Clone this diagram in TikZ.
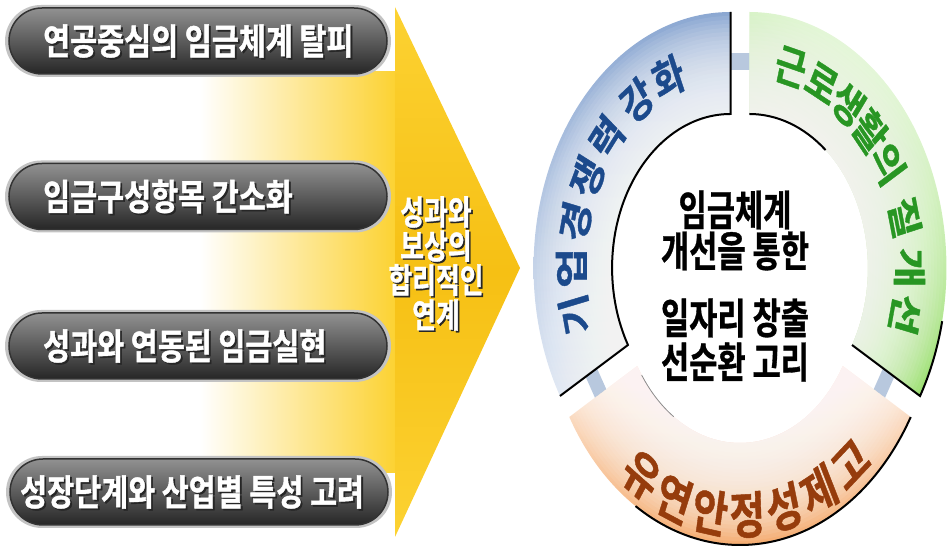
\documentclass[tikz,border=0pt]{standalone}
\usepackage{fontspec}
\newfontfamily\krA[FakeStretch=0.815,FakeBold=1.2]{Noto Sans CJK KR Bold}
\newfontfamily\krB[FakeStretch=0.76,FakeBold=1.0]{Noto Sans CJK KR Bold}
\newfontfamily\krC[FakeStretch=0.73,FakeBold=0.8]{Noto Sans CJK KR Bold}
\newfontfamily\krN[FakeBold=1.0]{Noto Sans CJK KR Bold}
\definecolor{yelA}{RGB}{252,210,50}
\definecolor{yelB}{RGB}{246,192,20}
\definecolor{pilltop}{RGB}{145,145,145}
\definecolor{pillbot}{RGB}{38,38,38}
\definecolor{haloc}{RGB}{195,195,195}
\definecolor{segblue}{RGB}{140,168,210}
\definecolor{seggreen}{RGB}{140,218,90}
\definecolor{segorange}{RGB}{243,160,92}
\definecolor{txtblue}{RGB}{28,74,140}
\definecolor{txtgreen}{RGB}{40,150,35}
\definecolor{txtbrown}{RGB}{150,60,12}
\definecolor{connc}{RGB}{184,200,222}
\tikzset{
  halo/.style={rectangle, rounded corners=36pt, minimum width=386pt, minimum height=72pt, fill=haloc},
  pill/.style={rectangle, rounded corners=33pt, minimum width=378pt, minimum height=66pt,
    top color=pilltop, bottom color=pillbot, draw=black!80, line width=1.5pt},
  pilltxt/.style={anchor=west, inner sep=0pt, font=\krA\fontsize{36}{40}\selectfont},
  arrtxt/.style={inner sep=0pt, font=\krB\fontsize{34}{38}\selectfont},
  ctrtxt/.style={inner sep=0pt, font=\krC\fontsize{42}{44}\selectfont, text=black},
  ringtxt/.style={inner sep=0pt, transform shape},
  conn/.style={rectangle, fill=connc, minimum width=26pt, minimum height=17pt, inner sep=0pt, transform shape},
  segline/.style={draw=black, line width=2pt},
  glow/.style={fill=white, opacity=0.075},
}
\begin{document}
\begin{tikzpicture}[x=1pt,y=1pt]
\useasboundingbox (0,0) rectangle (948,548);
% yellow band and arrow
\shade[left color=white, right color=yelA] (200,75) rectangle (396,476);
\shade[top color=yelA, bottom color=yelA, middle color=yelB] (395,541) -- (520,280) -- (395,11) -- cycle;
% pills
\foreach \n/\y/\t in {1/507/연공중심의 임금체계 탈피, 2/351.5/임금구성항목 간소화, 3/202/성과와 연동된 임금실현} {
  \node[halo] (h\n) at (198,\y) {};
  \node[pill] (p\n) at (198,\y) {};
  \node[pilltxt, text=black!85] (s\n) at (44.8,\y-1.8) {\t};
  \node[pilltxt, text=white] (t\n) at (43,\y) {\t};
}
\node[halo] (h4) at (199,56) {};
\node[pill] (p4) at (199,56) {};
\node[pilltxt, text=black!85] (s4) at (21.8,54.2) {성장단계와 산업별 특성 고려};
\node[pilltxt, text=white] (t4) at (20,56) {성장단계와 산업별 특성 고려};
% arrow text
\foreach \n/\y/\t in {1/336/성과와, 2/302/보상의, 3/268/합리적인, 4/233/연계} {
  \node[arrtxt, text=black!85] (as\n) at (437.6,\y-1.6) {\t};
  \node[arrtxt, text=white] (at\n) at (436,\y) {\t};
}
% ring
\begin{scope}[shift={(740,273)}, xscale=0.77]
  \node[conn, rotate=0] (c1) at (90:213) {};
  \node[conn, rotate=120] (c2) at (210:216) {};
  \node[conn, rotate=240] (c3) at (330:216) {};
  % blue segment
  \begin{scope}[shift={(150:14)}]
    \shade[left color=segblue, right color=segblue!25, shading angle=0]
      (90:256) arc[start angle=90, end angle=210, radius=256] -- (210:154)
      arc[start angle=210, end angle=90, radius=154] -- cycle;
    \foreach \k in {1,...,25} {
      \fill[glow] (90:256-\k*4) arc[start angle=90, end angle=210, radius=256-\k*4] -- (210:154)
        arc[start angle=210, end angle=90, radius=154] -- cycle;
    }
    \draw[segline] (90:256) -- (90:154) arc[start angle=90, end angle=210, radius=154] -- (210:256);
    \foreach \c/\a [count=\i] in {기/193, 업/180, 경/167, 쟁/154, 력/141, 강/126, 화/113} {
      \node[ringtxt, rotate=\a-90, text=txtblue, font=\krN\fontsize{44}{48}\selectfont] (bt\i) at (\a:207) {\c};
    }
  \end{scope}
  % green segment
  \begin{scope}[shift={(30:14)}]
    \shade[left color=seggreen!15, right color=seggreen, shading angle=-40]
      (90:256) arc[start angle=90, end angle=-30, radius=256] -- (-30:154)
      arc[start angle=-30, end angle=90, radius=154] -- cycle;
    \foreach \k in {1,...,25} {
      \fill[glow] (90:256-\k*4) arc[start angle=90, end angle=-30, radius=256-\k*4] -- (-30:154)
        arc[start angle=-30, end angle=90, radius=154] -- cycle;
    }
    \draw[segline] (90:154) arc[start angle=90, end angle=50, radius=154];
    \draw[segline] (-30:154) -- (-30:256) arc[start angle=-30, end angle=-12, radius=256];
    \foreach \c/\a [count=\i] in {근/75, 로/63, 생/52, 활/41, 의/30, 질/14, 개/0, 선/-13} {
      \node[ringtxt, rotate=\a-90, text=txtgreen, font=\krN\fontsize{44}{48}\selectfont] (gt\i) at (\a:208) {\c};
    }
  \end{scope}
  % orange segment
  \begin{scope}[shift={(270:14)}]
    \shade[top color=segorange!20, bottom color=segorange]
      (210:256) arc[start angle=210, end angle=330, radius=256] -- (330:154)
      arc[start angle=330, end angle=210, radius=154] -- cycle;
    \foreach \k in {1,...,25} {
      \fill[glow] (210:256-\k*4) arc[start angle=210, end angle=330, radius=256-\k*4] -- (330:154)
        arc[start angle=330, end angle=210, radius=154] -- cycle;
    }
    \draw[segline] (238:256) arc[start angle=238, end angle=330, radius=256];
    \draw[black!45, line width=0.8pt] (214:154) arc[start angle=214, end angle=236, radius=154];
    \foreach \c/\a [count=\i] in {유/235.5, 연/247.8, 안/260.1, 정/272.4, 성/284.7, 제/297, 고/309.3} {
      \node[ringtxt, rotate=\a+90, text=txtbrown, font=\krN\fontsize{50}{54}\selectfont] (ot\i) at (\a:226) {\c};
    }
  \end{scope}
\end{scope}
% centre text
\node[ctrtxt] (m1) at (735,338) {임금체계};
\node[ctrtxt] (m2) at (735,297) {개선을 통한};
\node[ctrtxt] (m3) at (735,230) {일자리 창출};
\node[ctrtxt] (m4) at (735,186) {선순환 고리};
\end{tikzpicture}
\end{document}
